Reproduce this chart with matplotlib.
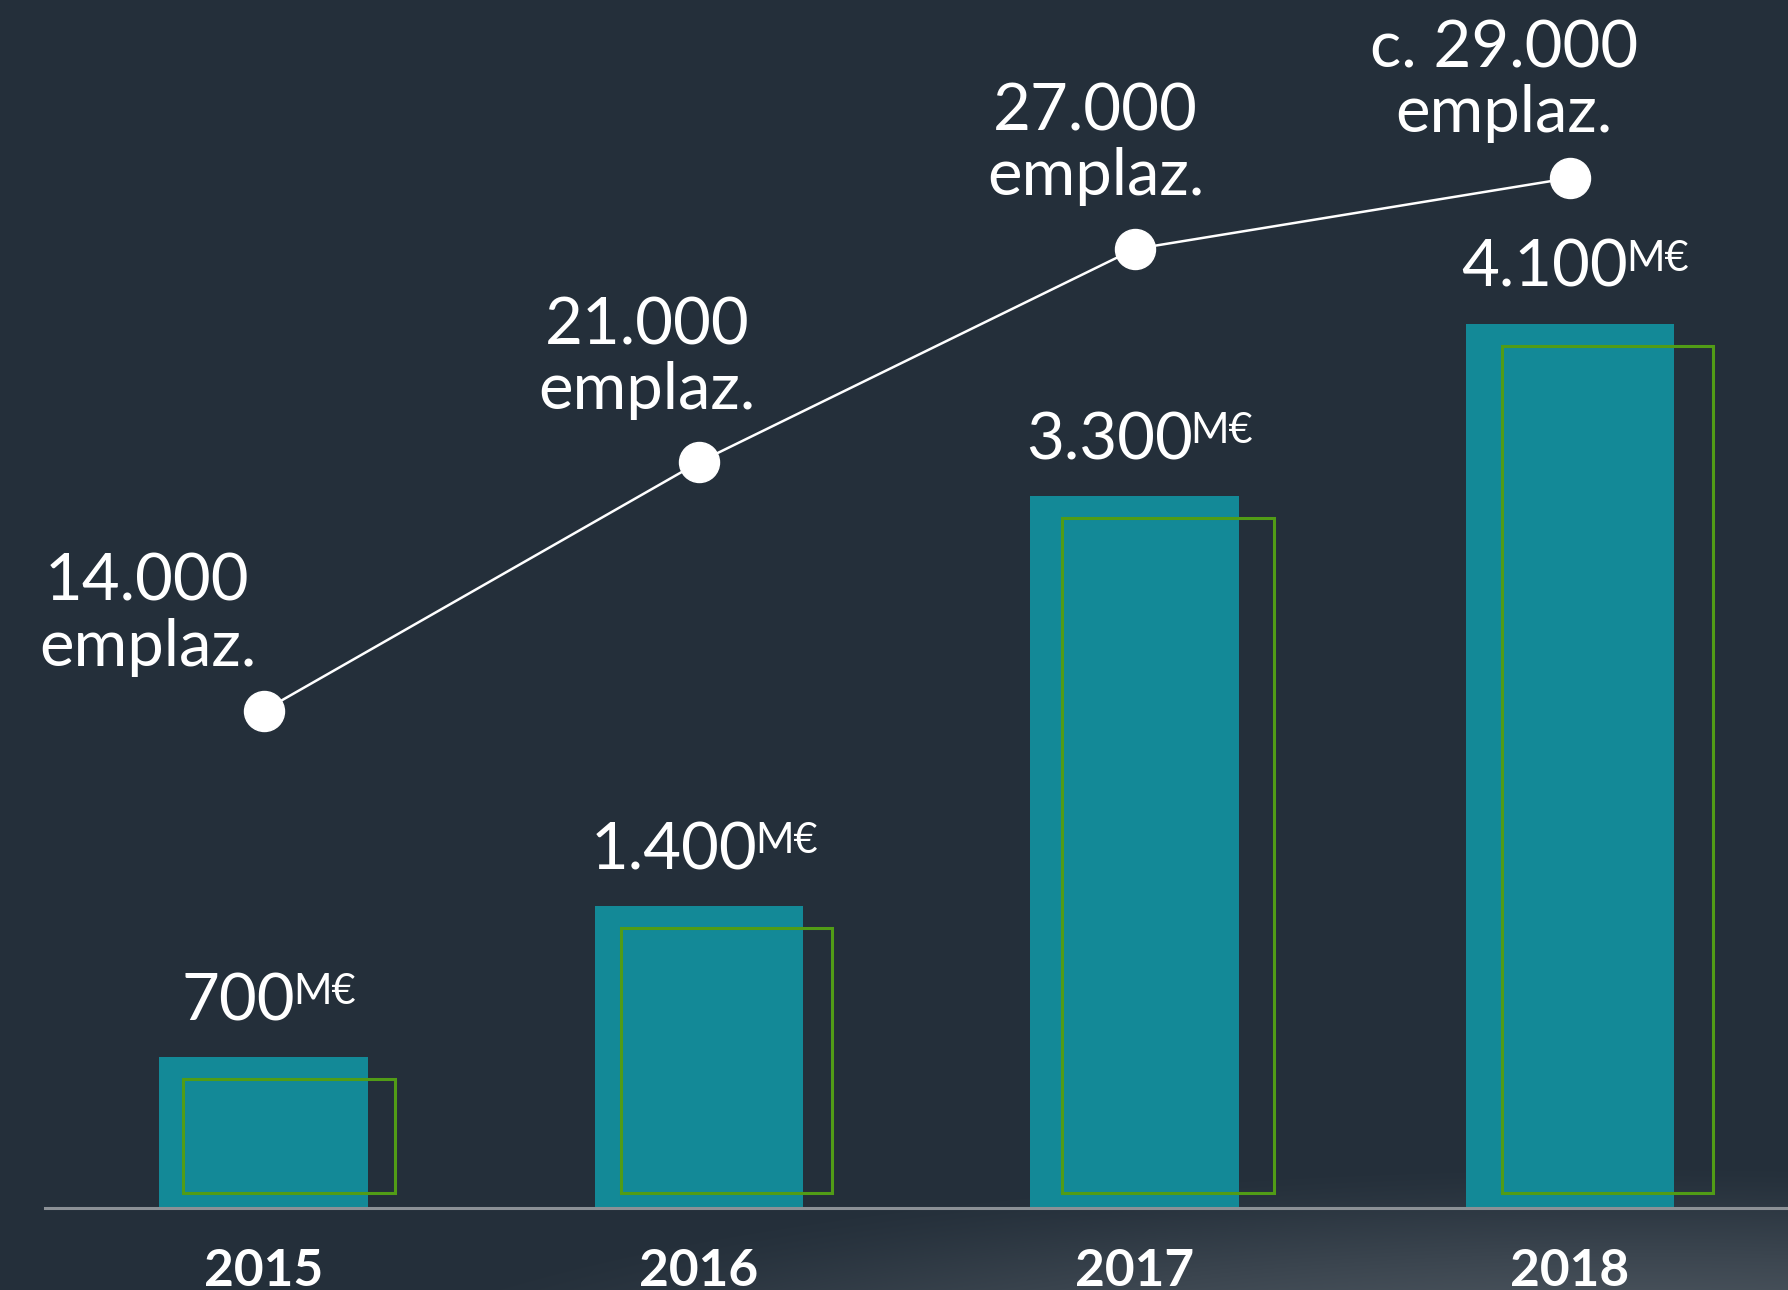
import numpy as np
import matplotlib.pyplot as plt
from matplotlib.patches import Rectangle

# %% data
years = ['2015', '2016', '2017', '2018']
inversion = [700, 1400, 3300, 4100]                # M€ (bars)
inversion_labels = ['700', '1.400', '3.300', '4.100']
emplazamientos = [14000, 21000, 27000, 29000]      # line
emplaz_labels = ['14.000', '21.000', '27.000', 'c. 29.000']

# layout tweaks (pixels)
emplaz_dx = [-116, -52, -39, -66]
emplaz_dy = [45, 53, 54, 46]
outline_dx = [24, 26, 32, 36]

BG = '#242f3a'
TEAL = '#138997'
GREEN = '#519c16'
W, H, DPI = 1788, 1290, 100
BASE_PX = 82          # baseline height above figure bottom
SPACING_PX = 435.5    # distance between categories
BAR_W = 0.478

plt.rcParams['font.family'] = ['Lato', 'DejaVu Sans']

fig = plt.figure(figsize=(W / DPI, H / DPI), dpi=DPI, facecolor=BG)

# soft light glow in the bottom-right corner
bg = fig.add_axes([0, 0, 1, 1], zorder=-10)
yy, xx = np.mgrid[0:H, 0:W]
d = ((xx - 1650) / 1400.0) ** 2 + ((yy - 1420) / 260.0) ** 2
alpha = np.clip(1 - d, 0, 1) ** 1.5 * 0.45
base = np.array([36, 47, 58]) / 255.0
light = np.array([150, 156, 162]) / 255.0
img = base[None, None, :] * (1 - alpha[..., None]) + light[None, None, :] * alpha[..., None]
bg.imshow(img, extent=[0, W, H, 0], aspect='auto')
bg.axis('off')

# main axes: bottom edge = baseline
ax = fig.add_axes([0, BASE_PX / H, 1, 1 - BASE_PX / H])
ax.set_facecolor('none')
x = np.arange(len(years))
x0 = 263.5 / SPACING_PX
ax.set_xlim(-x0, (W - 263.5) / SPACING_PX)
ax.set_ylim(0, 5602)
ax.axis('off')

ax_px = H - BASE_PX
yunit = ax_px / 5602.0      # px per M€

ax.bar(x, inversion, width=BAR_W, color=TEAL, zorder=2)

# green offset outlines
for i, v in enumerate(inversion):
    left = i - BAR_W / 2 + outline_dx[i] / SPACING_PX
    bottom = 15 / yunit
    top = v - 22 / yunit
    ax.add_patch(Rectangle((left, bottom), BAR_W + 3 / SPACING_PX, top - bottom,
                           fill=False, edgecolor=GREEN, lw=2.2, zorder=3))

ax.axhline(0, xmin=45 / W, xmax=1, color='#8c9196', lw=2.2, zorder=4, clip_on=False)

# value labels with superscript unit
renderer = fig.canvas.get_renderer()
for i, (v, lab) in enumerate(zip(inversion, inversion_labels)):
    t = ax.annotate(lab, (i, v), xytext=(0, 37), textcoords='offset pixels',
                    ha='left', va='baseline', color='white', fontsize=47,
                    annotation_clip=False)
    s = ax.annotate('M€', (i, v), xytext=(0, 53), textcoords='offset pixels',
                    ha='left', va='baseline', color='white', fontsize=30,
                    annotation_clip=False)
    wn = t.get_window_extent(renderer).width
    wm = s.get_window_extent(renderer).width
    gap = -2
    total = wn + gap + wm
    left = 5 - total / 2
    t.set_position((left, 37))
    s.set_position((left + wn + gap, 53))

# year labels
for i, yr in enumerate(years):
    ax.annotate(yr, (i, 0), xytext=(0, -78), textcoords='offset pixels',
                ha='center', va='baseline', color='white', fontsize=37,
                fontweight='bold', annotation_clip=False)

# line on a second scale sharing the same baseline
ax2 = ax.twinx()
ax2.set_ylim(0, 34012)
ax2.axis('off')
ax2.plot(x, emplazamientos, color='white', lw=1.8, marker='o', ms=28.8,
         mfc='white', mec='white', clip_on=False, zorder=5)

for i, (e, lab) in enumerate(zip(emplazamientos, emplaz_labels)):
    ax2.annotate('emplaz.', (i, e), xytext=(emplaz_dx[i], emplaz_dy[i]),
                 textcoords='offset pixels', ha='center', va='baseline',
                 color='white', fontsize=47, annotation_clip=False)
    ax2.annotate(lab, (i, e), xytext=(emplaz_dx[i], emplaz_dy[i] + 65),
                 textcoords='offset pixels', ha='center', va='baseline',
                 color='white', fontsize=47, annotation_clip=False)

fig.savefig('out.png', dpi=DPI, facecolor=BG)
